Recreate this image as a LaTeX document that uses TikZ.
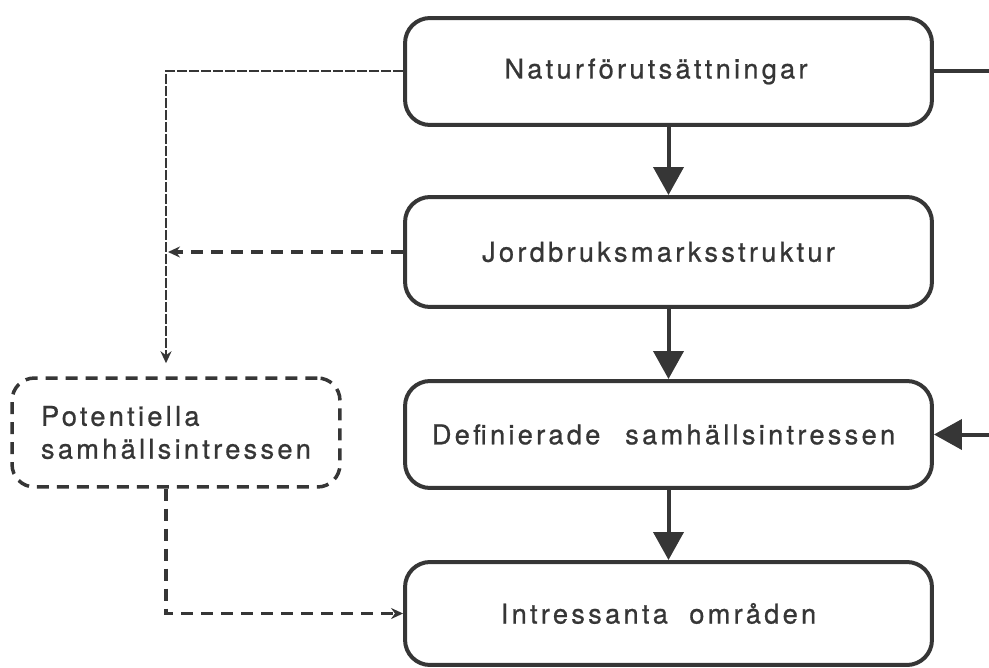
\documentclass[tikz,border=0pt]{standalone}
\usepackage{fontspec}
\setmainfont{TeX Gyre Heros}[LetterSpace=12,RawFeature={embolden=0.8}]
\usetikzlibrary{arrows.meta,positioning,calc}
\definecolor{ink}{HTML}{363636}

\begin{document}
\begin{tikzpicture}[x=0.02cm,y=-0.02cm,line width=.08cm,color=ink,
    box/.style={draw,rounded corners=.5cm,minimum width=10.54cm,font=\fontsize{15.5}{19}\selectfont},
    potbox/.style={draw,dashed,dash pattern=on .24cm off .16cm,line width=.07cm,rounded corners=.45cm,
        minimum width=6.56cm,minimum height=2.18cm,align=left,font=\fontsize{15.5}{18.7}\selectfont},
    flow/.style={-{Triangle[length=.56cm,width=.6cm]}},
    link/.style={dash pattern=on .24cm off .16cm,line width=.07cm,-{Stealth[length=.24cm,width=.22cm]}}]

      \useasboundingbox (0,0) rectangle (989,668);

      % main chain
      \node[box,minimum height=2.14cm] (nat) at (668.5,71.5) {Naturförutsättningar\hspace*{.5cm}};
      \node[box,minimum height=2.2cm]  (jord) at (668.5,252) {Jordbruksmarksstruktur\hspace*{.4cm}};
      \node[box,minimum height=2.14cm] (def) at (668.5,434.5) {Definierade\hspace*{8pt} samhällsintressen\hspace*{.2cm}};
      \node[box,minimum height=2.06cm] (omr) at (668.5,613.5) {Intressanta\hspace*{6pt} områden\hspace*{.4cm}};

      \node[potbox] (pot) at (176,432.5) {Potentiella\\samhällsintressen};

      \coordinate (edge) at (989,0);
      \coordinate (side) at (166,0);

      \draw[flow] (nat) -- (jord);
      \draw[flow] (jord) -- (def);
      \draw[flow] (def) -- (omr);

      \draw (nat.east) -- (nat.east -| edge);
      \draw[flow] (def.east -| edge) -- (def.east);

      % dashed links
      \draw[link,line width=.04cm,dash pattern=on .2cm off .04cm,shorten >=.26cm] (nat.west) -| (pot.north -| side);
      \draw[link,shorten >=.04cm] (jord.west) -- (jord.west -| side);
      \draw[link] (pot.south -| side) |- (omr.west);

    \end{tikzpicture}
\end{document}
